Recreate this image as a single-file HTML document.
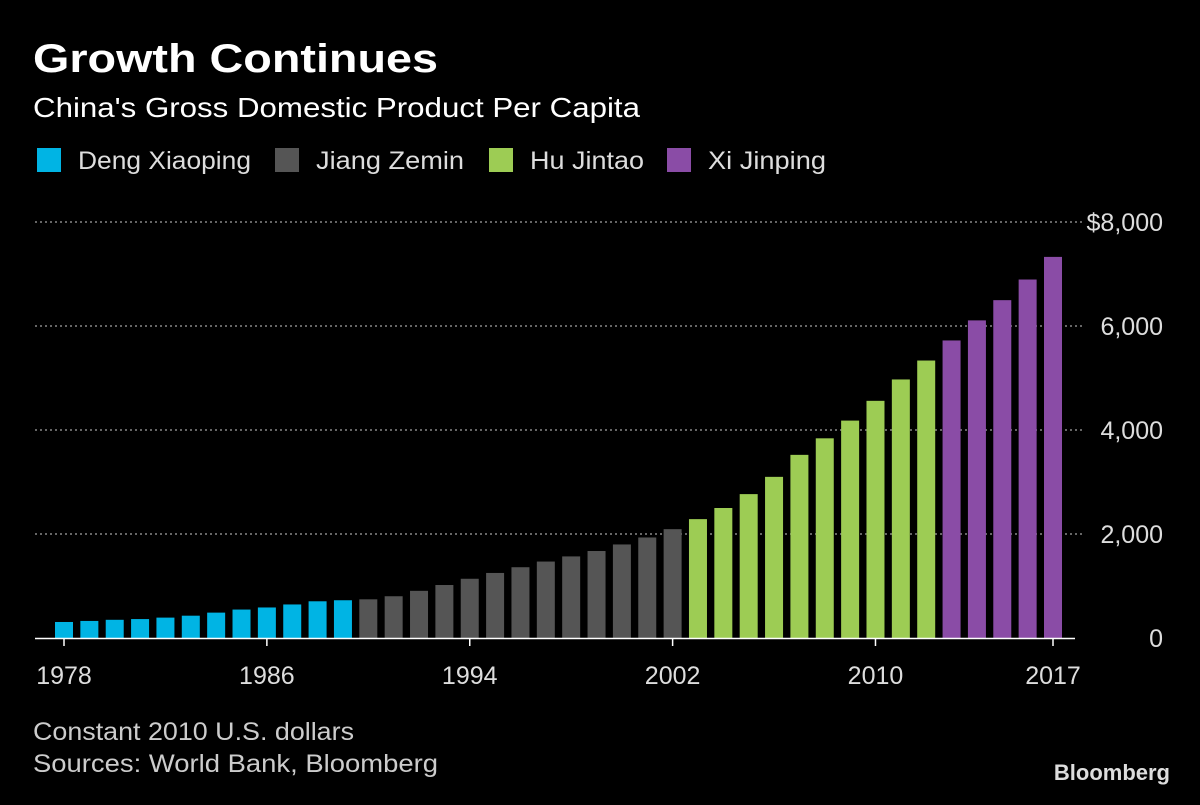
<!DOCTYPE html>
<html><head><meta charset="utf-8"><style>
body{margin:0;background:#000;width:1200px;height:800px;overflow:hidden;font-family:"Liberation Sans",sans-serif;color:#fff}
</style></head><body>
<svg width="1200" height="800">
<text x="33" y="72" font-size="40" font-weight="bold" fill="#fff" textLength="405" lengthAdjust="spacingAndGlyphs" font-family="Liberation Sans, sans-serif">Growth Continues</text>
<text x="33" y="117" font-size="28" fill="#fff" textLength="607" lengthAdjust="spacingAndGlyphs" font-family="Liberation Sans, sans-serif">China's Gross Domestic Product Per Capita</text>
<g id="legend" font-size="25" font-family="Liberation Sans, sans-serif" fill="#ddd"></g>
<g id="grid"></g><g id="bars"></g><g id="axes"></g>
<text x="33" y="740" font-size="25" fill="#ccc" textLength="321" lengthAdjust="spacingAndGlyphs" font-family="Liberation Sans, sans-serif">Constant 2010 U.S. dollars</text>
<text x="33" y="772" font-size="25" fill="#ccc" textLength="405" lengthAdjust="spacingAndGlyphs" font-family="Liberation Sans, sans-serif">Sources: World Bank, Bloomberg</text>
<text x="1170" y="780" font-size="22" font-weight="bold" fill="#ddd" text-anchor="end" font-family="Liberation Sans, sans-serif">Bloomberg</text>
</svg>
<script>
const years=[1978,1979,1980,1981,1982,1983,1984,1985,1986,1987,1988,1989,1990,1991,1992,1993,1994,1995,1996,1997,1998,1999,2000,2001,2002,2003,2004,2005,2006,2007,2008,2009,2010,2011,2012,2013,2014,2015,2016,2017];
const gdp=[308,328,350,364,392,429,488,547,587,645,706,726,744,803,907,1019,1139,1251,1361,1470,1569,1673,1799,1933,2093,2286,2500,2767,3099,3522,3840,4181,4561,4972,5336,5722,6108,6497,6894,7329];
const leaders=["Deng Xiaoping","Jiang Zemin","Hu Jintao","Xi Jinping"];
const leaderStart=[1978,1990,2003,2013];
const colors=["#00b4e4","#555555","#9dcc54","#8a4ca6"];
const yTicks=[0,2000,4000,6000,8000];
const yLabels=["0","2,000","4,000","6,000","$8,000"];
const xTicks=[1978,1986,1994,2002,2010,2017];
const NS="http://www.w3.org/2000/svg";
const x=y=>64+(y-1978)*(1053-64)/39;
const yv=v=>638-v*416/8000;
function mk(p,t,a){const e=document.createElementNS(NS,t);for(const k in a)e.setAttribute(k,a[k]);p.appendChild(e);return e;}
const grid=document.getElementById('grid'),bars=document.getElementById('bars'),axes=document.getElementById('axes'),leg=document.getElementById('legend');
yTicks.forEach((t,i)=>{
 if(t>0){const l=mk(grid,'line',{x1:35,x2:1085,y1:yv(t),y2:yv(t),stroke:'#888','stroke-width':1.5,'stroke-dasharray':'2,3'});
 
 }
 const tx=mk(axes,'text',{x:1163,y:yv(t)+9,'text-anchor':'end','font-size':25,fill:'#ddd','font-family':'Liberation Sans, sans-serif'});
 tx.textContent=yLabels[i];
 
 
});
function leaderIdx(yr){let k=0;leaderStart.forEach((s,i)=>{if(yr>=s)k=i;});return k;}
years.forEach((yr,i)=>{
 const r=mk(bars,'rect',{x:x(yr)-9,y:yv(gdp[i]),width:18,height:yv(0)-yv(gdp[i]),fill:colors[leaderIdx(yr)]});
 
 
});
const base=mk(axes,'line',{x1:35,x2:1075,y1:638.5,y2:638.5,stroke:'#fff','stroke-width':1.5});


xTicks.forEach(t=>{
 mk(axes,'line',{x1:x(t),x2:x(t),y1:638,y2:646,stroke:'#fff','stroke-width':1.5});
 const tx=mk(axes,'text',{x:x(t),y:684,'text-anchor':'middle','font-size':25,fill:'#ddd','font-family':'Liberation Sans, sans-serif'});
 tx.textContent=t;
 
 
});
const legX=[37,275,489,667];
const legW=[173,148,114,118];
leaders.forEach((n,i)=>{
 const g=mk(leg,'g',{});
 
 
 mk(g,'rect',{x:legX[i],y:148,width:24,height:24,fill:colors[i]});
 const t=mk(g,'text',{x:legX[i]+41,y:169,textLength:legW[i],lengthAdjust:'spacingAndGlyphs'});t.textContent=n;
});
</script>
</body></html>
